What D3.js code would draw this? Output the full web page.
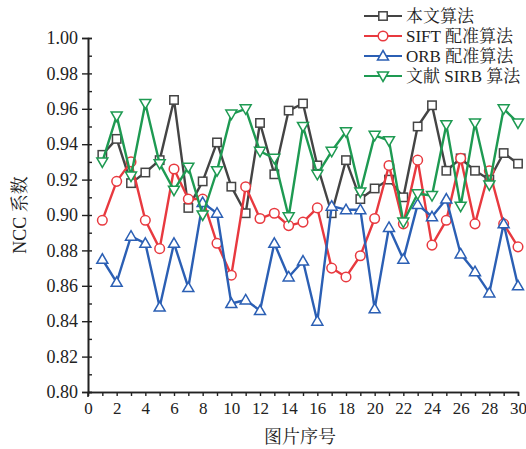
<!DOCTYPE html>
<html><head><meta charset="utf-8">
<script src="https://cdn.jsdelivr.net/npm/d3@7/dist/d3.min.js"></script>
<style>body{margin:0;background:#fff}svg{display:block}</style>
</head><body>
<svg id="c" width="526" height="449"></svg>
<script>
const imageIds = d3.range(1, 31);
const seriesNames = ["本文算法", "SIFT 配准算法", "ORB 配准算法", "文献 SIRB 算法"];
const oursValues = [0.934,0.943,0.918,0.924,0.931,0.965,0.904,0.919,0.941,0.916,0.901,0.952,0.923,0.959,0.963,0.928,0.901,0.931,0.909,0.915,0.920,0.910,0.950,0.962,0.925,0.932,0.925,0.920,0.935,0.929];
const siftValues = [0.897,0.919,0.930,0.897,0.881,0.926,0.909,0.909,0.884,0.866,0.916,0.898,0.901,0.894,0.896,0.904,0.870,0.865,0.877,0.898,0.928,0.895,0.931,0.883,0.897,0.932,0.895,0.925,0.895,0.882];
const orbValues = [0.875,0.862,0.888,0.884,0.848,0.884,0.859,0.907,0.901,0.850,0.852,0.846,0.884,0.865,0.874,0.840,0.905,0.903,0.903,0.847,0.893,0.875,0.906,0.899,0.909,0.878,0.868,0.856,0.895,0.860];
const sirbValues = [0.930,0.956,0.922,0.963,0.929,0.914,0.927,0.900,0.925,0.957,0.960,0.936,0.932,0.899,0.950,0.923,0.936,0.947,0.913,0.945,0.942,0.896,0.912,0.911,0.951,0.905,0.952,0.917,0.960,0.952];
const yTicks = [0.80,0.82,0.84,0.86,0.88,0.90,0.92,0.94,0.96,0.98,1.00];
const xTicks = [0,2,4,6,8,10,12,14,16,18,20,22,24,26,28,30];

const seriesValues = [oursValues, siftValues, orbValues, sirbValues];
const colors = ["#444444", "#e8393f", "#2b5fb4", "#1e9a52"];
const markers = ["square", "circle", "triUp", "triDown"];

const svg = d3.select("#c");
const x = d3.scaleLinear().domain([0, 30]).range([88, 518]);
const y = d3.scaleLinear().domain([0.80, 1.00]).range([392, 38]);
const serif = "'Liberation Serif','Times New Roman','Noto Serif CJK SC','Noto Sans CJK SC',serif";

// axes
const gx = svg.append("g").attr("transform", "translate(0,392)");
gx.call(d3.axisBottom(x).tickValues(xTicks).tickFormat(d3.format("d")).tickSize(0).tickPadding(10));
gx.append("g").call(d3.axisBottom(x).tickValues(d3.range(1, 31)).tickFormat("").tickSize(4));
const gy = svg.append("g").attr("transform", "translate(88,0)");
gy.call(d3.axisLeft(y).tickValues(yTicks).tickFormat(d3.format(".2f")).tickSize(6).tickPadding(4));
gy.append("g").call(d3.axisRight(y).tickValues(d3.range(0, 21).map(i => 0.80 + i * 0.01)).tickFormat("").tickSize(4));
svg.selectAll(".domain").attr("stroke", "#222").attr("stroke-width", 1.6);
svg.selectAll(".tick line").attr("stroke", "#222").attr("stroke-width", 1.4);
svg.selectAll(".tick text").attr("font-family", serif).attr("font-size", 18).attr("fill", "#222");
gx.selectAll(".tick text").attr("font-size", 17);
svg.append("line").attr("x1", 88).attr("x2", 88).attr("y1", 392).attr("y2", 397).attr("stroke", "#222").attr("stroke-width", 1.6);

svg.append("text").attr("x", 300).attr("y", 443).attr("text-anchor", "middle")
  .attr("font-family", serif).attr("font-size", 18).attr("fill", "#222").text("图片序号");
svg.append("text").attr("transform", "translate(26,215) rotate(-90)").attr("text-anchor", "middle")
  .attr("font-family", serif).attr("font-size", 18).attr("fill", "#222").text("NCC 系数");

function drawMarker(g, type, cx, cy, color) {
  const s = 4.2;
  let el;
  if (type === "square") el = g.append("rect").attr("x", cx - s).attr("y", cy - s).attr("width", 2 * s).attr("height", 2 * s);
  else if (type === "circle") el = g.append("circle").attr("cx", cx).attr("cy", cy).attr("r", s + 0.6);
  else if (type === "triUp") el = g.append("path").attr("d", `M${cx},${cy - 5.5}L${cx + 5.5},${cy + 4}L${cx - 5.5},${cy + 4}Z`);
  else el = g.append("path").attr("d", `M${cx},${cy + 5.5}L${cx + 5.5},${cy - 4}L${cx - 5.5},${cy - 4}Z`);
  el.attr("fill", "#fff").attr("stroke", color).attr("stroke-width", 1.5);
}

const line = d3.line().x((d, i) => x(imageIds[i])).y(d => y(d));
seriesValues.forEach((vals, k) => {
  const g = svg.append("g");
  g.append("path").datum(vals).attr("d", line).attr("fill", "none")
    .attr("stroke", colors[k]).attr("stroke-width", 2.4).attr("stroke-linejoin", "round");
  vals.forEach((v, i) => drawMarker(g, markers[k], x(imageIds[i]), y(v), colors[k]));
});

// legend
const lg = svg.append("g");
seriesNames.forEach((name, k) => {
  const cy = 16 + k * 20;
  lg.append("line").attr("x1", 364).attr("x2", 402).attr("y1", cy).attr("y2", cy)
    .attr("stroke", colors[k]).attr("stroke-width", 2.2);
  drawMarker(lg, markers[k], 383, cy, colors[k]);
  lg.append("text").attr("x", 406).attr("y", cy + 6).attr("font-family", serif)
    .attr("font-size", 17).attr("fill", "#222").text(name);
});
</script>
</body></html>
